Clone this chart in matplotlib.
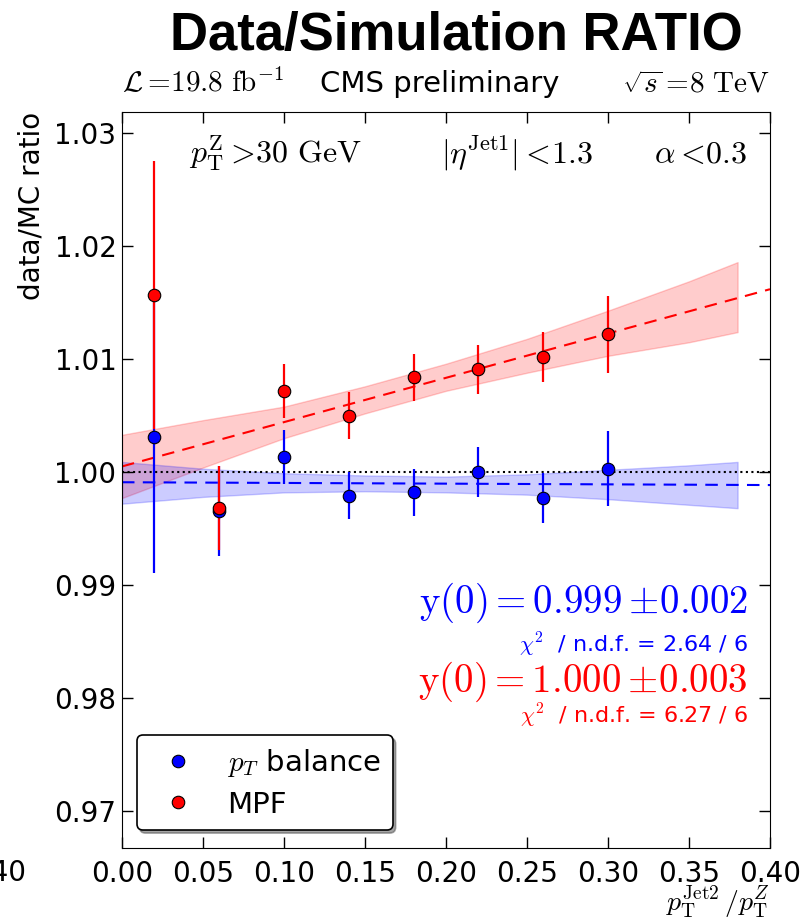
#!/usr/bin/env python3
"""Data/MC ratio vs second-jet fraction: pT balance and MPF with linear fits."""

import matplotlib
matplotlib.use("Agg")
import matplotlib.pyplot as plt
from matplotlib.lines import Line2D

# measured points
alpha_bins = [0.02, 0.06, 0.10, 0.14, 0.18, 0.22, 0.26, 0.30]
balance_ratio = [1.0031, 0.99655, 1.0013, 0.9979, 0.9982, 1.0000, 0.9977, 1.0003]
balance_err = [0.0120, 0.0040, 0.0024, 0.0021, 0.0021, 0.0022, 0.0022, 0.0033]
mpf_ratio = [1.0157, 0.9968, 1.0072, 1.0050, 1.0084, 1.0091, 1.0102, 1.0122]
mpf_err = [0.0119, 0.0037, 0.0024, 0.0021, 0.0021, 0.0022, 0.0022, 0.0034]

# fit lines (end points) and uncertainty bands
fit_x = [0.0, 0.40]
balance_fit = [0.9991, 0.99885]
mpf_fit = [1.0005, 1.0162]
band_x = [0.0, 0.05, 0.10, 0.15, 0.20, 0.25, 0.30, 0.35, 0.38]
balance_lo = [0.9972, 0.9978, 0.9982, 0.9983, 0.9982, 0.9980, 0.9976, 0.9971, 0.9968]
balance_hi = [1.0009, 1.0003, 0.9999, 0.9997, 0.9996, 0.9998, 1.0002, 1.0006, 1.0009]
mpf_lo = [0.9977, 1.0004, 1.0030, 1.0052, 1.0072, 1.0088, 1.0103, 1.0115, 1.0124]
mpf_hi = [1.0033, 1.0046, 1.0058, 1.0076, 1.0096, 1.0118, 1.0143, 1.0169, 1.0186]

x_ticks = [0.00, 0.05, 0.10, 0.15, 0.20, 0.25, 0.30, 0.35, 0.40]
y_ticks = [0.97, 0.98, 0.99, 1.00, 1.01, 1.02, 1.03]


def main() -> None:
    plt.rcParams["font.family"] = "DejaVu Sans"
    plt.rcParams["mathtext.fontset"] = "cm"
    plt.rcParams["font.size"] = 19

    fig = plt.figure(figsize=(8.1, 9.21), dpi=100)
    ax = fig.add_axes([0.1506, 0.0793, 0.8, 0.7991])

    # bands and fit lines
    ax.fill_between(band_x, mpf_lo, mpf_hi, color="red", alpha=0.2, linewidth=1)
    ax.fill_between(band_x, balance_lo, balance_hi, color="blue", alpha=0.2, linewidth=1)
    ax.plot(fit_x, mpf_fit, color="red", linestyle="--", dashes=(6, 4), linewidth=1.5)
    ax.plot(fit_x, balance_fit, color="blue", linestyle="--", dashes=(6, 4), linewidth=1.5)
    ax.axhline(1.0, color="black", linestyle=":", linewidth=1.5)

    # error bars, then markers on top
    ax.errorbar(alpha_bins, balance_ratio, yerr=balance_err, fmt="none",
                ecolor="blue", elinewidth=1.6, zorder=3)
    ax.errorbar(alpha_bins, mpf_ratio, yerr=mpf_err, fmt="none",
                ecolor="red", elinewidth=1.6, zorder=3)
    ax.plot(alpha_bins, balance_ratio, "o", color="blue", markeredgecolor="black",
            markeredgewidth=0.8, markersize=9, zorder=4)
    ax.plot(alpha_bins, mpf_ratio, "o", color="red", markeredgecolor="black",
            markeredgewidth=0.8, markersize=9, zorder=4)

    ax.set_xlim(0.0, 0.40)
    ax.set_ylim(0.9667, 1.0319)
    ax.set_xticks(x_ticks)
    ax.set_yticks(y_ticks)
    ax.set_xticklabels([f"{v:.2f}" for v in x_ticks])
    ax.set_yticklabels([f"{v:.2f}" for v in y_ticks])
    ax.tick_params(direction="in", top=True, right=True, length=8, width=1,
                   labelsize=20)
    ax.tick_params(axis="x", pad=9)
    ax.tick_params(axis="y", pad=4)

    ax.set_ylabel("data/MC ratio", loc="top", fontsize=20, labelpad=6)
    ax.set_xlabel(r"$p_\mathrm{T}^\mathrm{Jet2}\,/p_\mathrm{T}^Z$", loc="right",
                  fontsize=20)
    ax.xaxis.set_label_coords(1.0, -0.049)

    # header line above axes
    ax.text(0.0, 1.027, r"$\mathcal{L}=\!19.8\ \mathrm{fb}^{-1}$",
            transform=ax.transAxes, ha="left", va="baseline", fontsize=21)
    ax.text(0.49, 1.027, "CMS preliminary", transform=ax.transAxes,
            ha="center", va="baseline", fontsize=21)
    ax.text(1.0, 1.027, r"$\sqrt{s}=\!8\ \mathrm{TeV}$", transform=ax.transAxes,
            ha="right", va="baseline", fontsize=21)

    # selection cuts
    ax.text(0.103, 0.931, r"$p_\mathrm{T}^\mathrm{Z}>\!30\ \mathrm{GeV}$",
            transform=ax.transAxes, ha="left", va="baseline", fontsize=23)
    ax.text(0.61, 0.931, r"$|\eta^\mathrm{Jet1}|<\!1.3$",
            transform=ax.transAxes, ha="center", va="baseline", fontsize=23)
    ax.text(0.965, 0.931, r"$\alpha<\!0.3$",
            transform=ax.transAxes, ha="right", va="baseline", fontsize=23)

    # fit results
    ax.text(0.966, 0.319, r"$\mathrm{y}(0)=0.999\pm\!0.002$", color="blue",
            transform=ax.transAxes, ha="right", va="baseline", fontsize=28)
    ax.text(0.966, 0.266, r"$\chi^2$  / n.d.f. = 2.64 / 6", color="blue",
            transform=ax.transAxes, ha="right", va="baseline", fontsize=16)
    ax.text(0.966, 0.212, r"$\mathrm{y}(0)=1.000\pm\!0.003$", color="red",
            transform=ax.transAxes, ha="right", va="baseline", fontsize=28)
    ax.text(0.966, 0.169, r"$\chi^2$  / n.d.f. = 6.27 / 6", color="red",
            transform=ax.transAxes, ha="right", va="baseline", fontsize=16)

    handles = [
        Line2D([], [], marker="o", linestyle="none", color="blue",
               markeredgecolor="black", markeredgewidth=0.8, markersize=9),
        Line2D([], [], marker="o", linestyle="none", color="red",
               markeredgecolor="black", markeredgewidth=0.8, markersize=9),
    ]
    leg = ax.legend(handles, [r"$p_T$ balance", "MPF"], loc="lower left",
                    bbox_to_anchor=(0.023, 0.024), borderaxespad=0,
                    fontsize=21, numpoints=1, fancybox=True, shadow=True,
                    framealpha=1.0, handletextpad=0.7, borderpad=0.4,
                    labelspacing=0.4)
    leg.get_frame().set_edgecolor("black")
    leg.get_frame().set_linewidth(1.2)

    # slide title and a clipped tick label from the neighbouring panel
    fig.text(0.564, 1 - 50 / 921, "Data/Simulation RATIO", ha="center", va="baseline",
             fontsize=38, fontweight="bold", family="Liberation Sans")
    fig.text(26 / 810, 1 - 873 / 921, "0.40", ha="right", va="center", fontsize=20)

    fig.savefig("out.png", dpi=100)
    plt.close(fig)


if __name__ == "__main__":
    main()
